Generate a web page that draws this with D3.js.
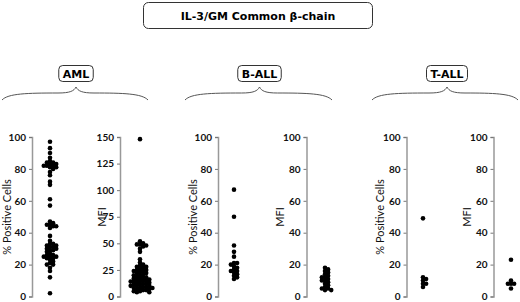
<!DOCTYPE html>
<html>
<head>
<meta charset="utf-8">
<script src="https://cdn.jsdelivr.net/npm/d3@7"></script>
<style>
  body { margin: 0; background: #fff; }
  svg { display: block; font-family: "Lato", "DejaVu Sans", sans-serif; }
</style>
</head>
<body>
<div id="chart"></div>
<script>
// values
const groups = ["AML", "B-ALL", "T-ALL"];
const amlPos = [97, 93, 90, 87, 85, 84, 84, 83, 83, 82, 82, 82, 81, 81, 80, 78, 76, 72, 70, 61, 57,
  47, 46, 45, 45, 44, 44, 43, 38, 35, 33, 33, 32, 32, 31, 31, 30, 30, 29, 29, 28, 27, 26,
  26, 25, 25, 25, 24, 24, 23, 22, 21, 20, 20, 18, 16, 12, 2];
const amlMfi = [148, 52, 50, 49, 49, 48, 47, 45, 42, 35, 32, 30, 29, 28, 28, 27, 26, 25, 25, 24, 24,
  23, 22, 22, 21, 20, 20, 19, 18, 18, 17, 17, 16, 16, 15, 15, 14, 14, 14, 13, 13, 12, 12,
  11, 11, 10, 10, 10, 9, 9, 8, 8, 8, 7, 7, 6, 6, 5, 5, 4, 4];
const bPos = [67, 50, 32, 28, 25, 21, 21, 20, 19, 18, 17, 16, 16, 15, 14, 13, 12, 11];
const bMfi = [18, 17, 16, 15, 14, 13, 12, 12, 11, 10, 10, 9, 8, 7, 6, 5, 5, 4, 4];
const tPos = [49, 12, 11, 10, 8, 8, 6];
const tMfi = [23, 10, 8, 8, 8, 5];
const posTicks = [0, 20, 40, 60, 80, 100];
const amlMfiTicks = [0, 25, 50, 75, 100, 125, 150];

const width = 520, height = 302;
const svg = d3.select("#chart").append("svg")
    .attr("width", width)
    .attr("height", height);

// title box
svg.append("rect")
    .attr("x", 143.5).attr("y", 2.5)
    .attr("width", 229).attr("height", 26)
    .attr("rx", 5)
    .attr("fill", "none").attr("stroke", "#333").attr("stroke-width", 1);
svg.append("text")
    .attr("x", 258).attr("y", 19.5)
    .attr("text-anchor", "middle")
    .style("font-family", "'DejaVu Sans', sans-serif")
    .style("font-size", "11px").style("font-weight", "bold")
    .text("IL-3/GM Common β-chain");

// group labels and braces
const groupCenter = [76, 259.5, 447];
const braceSpan = [[2, 148], [185, 332], [372, 518]];
groups.forEach((g, i) => {
  const cx = groupCenter[i];
  const t = svg.append("text")
      .attr("x", cx).attr("y", 77.5)
      .attr("text-anchor", "middle")
      .style("font-family", "'DejaVu Sans', sans-serif")
      .style("font-size", "11px").style("font-weight", "bold")
      .text(g);
  const w = t.node().getComputedTextLength();
  svg.append("rect")
      .attr("x", cx - w / 2 - 4).attr("y", 65.5)
      .attr("width", w + 8).attr("height", 16)
      .attr("rx", 4)
      .attr("fill", "none").attr("stroke", "#333").attr("stroke-width", 1);

  const [x0, x1] = braceSpan[i];
  const p = d3.path();
  p.moveTo(x0, 100);
  p.bezierCurveTo(x0 + 6, 93.5, x0 + 25, 93, cx - 18, 93);
  p.bezierCurveTo(cx - 6, 93, cx - 2, 91, cx, 87);
  p.bezierCurveTo(cx + 2, 91, cx + 6, 93, cx + 18, 93);
  p.bezierCurveTo(x1 - 25, 93, x1 - 6, 93.5, x1, 100);
  svg.append("path")
      .attr("d", p.toString())
      .attr("fill", "none").attr("stroke", "#555").attr("stroke-width", 1);
});

// one panel per measure
const panels = [
  {values: amlPos, max: 100, ticks: posTicks, axisX: 32, dotX: 50, labelX: 11, label: "% Positive Cells"},
  {values: amlMfi, max: 150, ticks: amlMfiTicks, axisX: 120, dotX: 140, labelX: 106, label: "MFI"},
  {values: bPos, max: 100, ticks: posTicks, axisX: 218, dotX: 234, labelX: 197, label: "% Positive Cells"},
  {values: bMfi, max: 100, ticks: posTicks, axisX: 306.5, dotX: 325, labelX: 284, label: "MFI"},
  {values: tPos, max: 100, ticks: posTicks, axisX: 406.5, dotX: 423, labelX: 384, label: "% Positive Cells"},
  {values: tMfi, max: 100, ticks: posTicks, axisX: 493.5, dotX: 511, labelX: 471, label: "MFI"}
];

const r = 2.3;

panels.forEach(pn => {
  const y = d3.scaleLinear().domain([0, pn.max]).range([296.5, 137]);

  const ax = svg.append("g")
      .attr("transform", `translate(${pn.axisX},0)`)
      .call(d3.axisLeft(y).tickValues(pn.ticks).tickSize(3).tickPadding(3));
  ax.select(".domain").attr("stroke", "#999").attr("stroke-width", 1.5);
  ax.selectAll(".tick line").attr("stroke", "#777");
  ax.selectAll(".tick text")
      .style("font-size", "10px").style("font-weight", "bold")
      .style("font-family", "Lato, 'DejaVu Sans', sans-serif")
      .attr("fill", "#111");

  svg.append("text")
      .attr("transform", `translate(${pn.labelX},${217}) rotate(-90)`)
      .attr("text-anchor", "middle")
      .style("font-size", "11px")
      .attr("fill", "#111")
      .text(pn.label);

  // simple deterministic beeswarm, dots allowed to overlap a little
  const placed = [];
  const sorted = pn.values.slice().sort((a, b) => b - a);
  sorted.forEach(v => {
    const cy = y(v);
    let off = 0;
    for (let k = 0; k < 40; k++) {
      const cand = k === 0 ? 0 : (k % 2 ? 1 : -1) * Math.ceil(k / 2) * (r * 1.35);
      const hit = placed.some(q => Math.hypot(q.dx - cand, q.cy - cy) < r * 1.2);
      if (!hit) { off = cand; break; }
    }
    placed.push({dx: off, cy: cy});
  });

  svg.append("g")
    .selectAll("circle")
    .data(placed)
    .join("circle")
      .attr("cx", d => pn.dotX + d.dx)
      .attr("cy", d => d.cy)
      .attr("r", r)
      .attr("fill", "#000");
});
</script>
</body>
</html>
